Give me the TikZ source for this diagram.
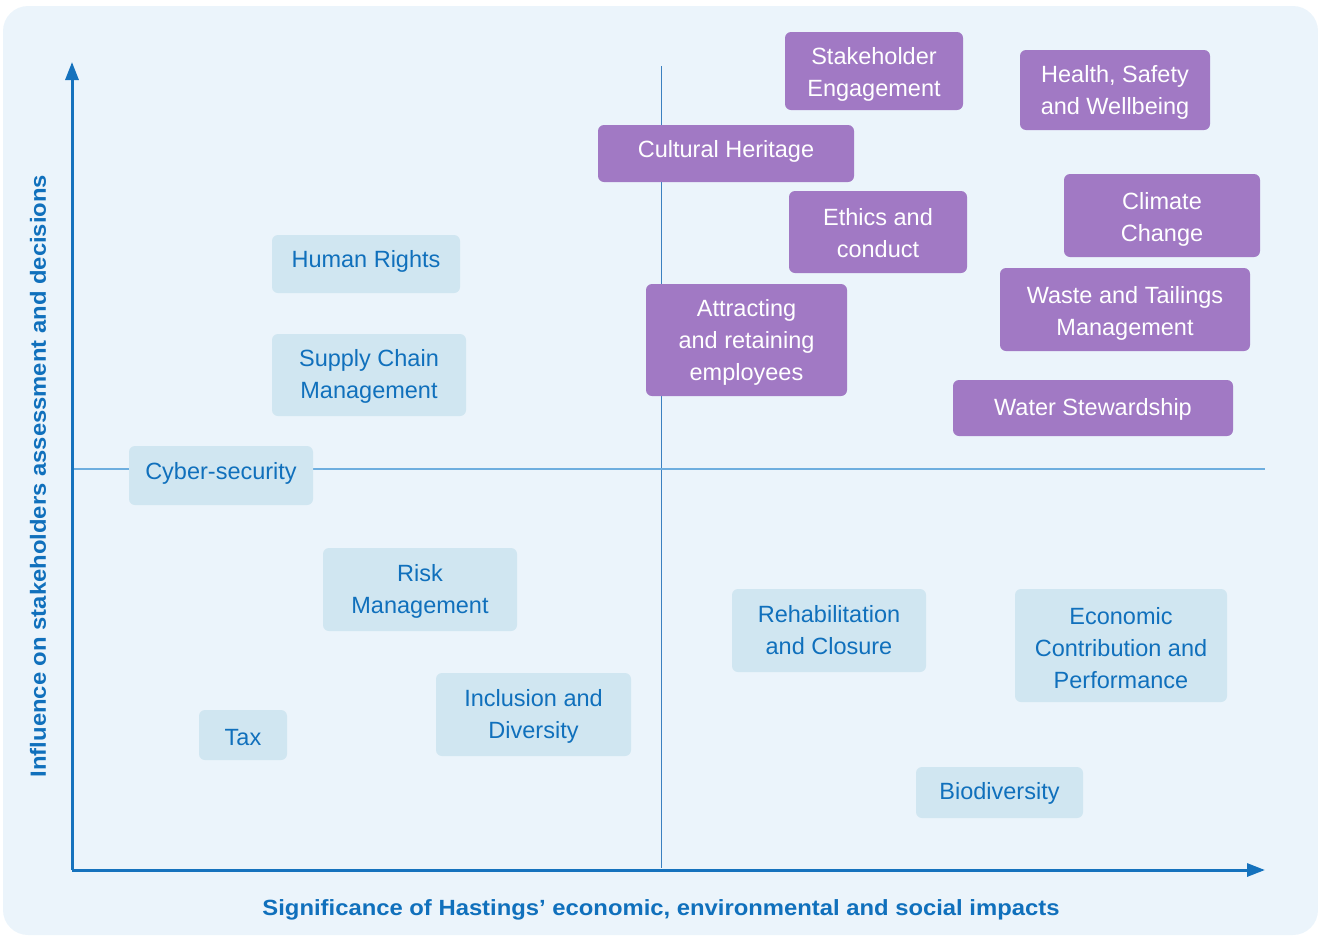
\documentclass[tikz,border=0pt]{standalone}
\usepackage{fontspec}
\setmainfont{Liberation Sans}
\usetikzlibrary{arrows.meta}
\definecolor{bgblue}{HTML}{EBF4FB}
\definecolor{purp}{HTML}{A179C4}
\definecolor{lbox}{HTML}{D0E6F1}
\definecolor{tblue}{HTML}{1070BC}
\definecolor{axblue}{HTML}{1572BD}
\definecolor{vline}{HTML}{3A80C0}
\definecolor{hline}{HTML}{6EAEDF}
\newcommand\dnl[1]{\rule{0pt}{#1pt}}
\newcommand\upl[2]{\raisebox{#1pt}[\height][\depth]{#2}}
\tikzset{
  box/.style={rectangle, rounded corners=6pt, inner sep=0pt, align=center,
    font=\fontsize{23.5}{32}\selectfont},
  pbox/.style={box, fill=purp, text=white},
  lbbox/.style={box, fill=lbox, text=tblue},
  axis/.style={draw=axblue, line width=3pt, -{Triangle[length=18pt,width=13pt]}},
  vthin/.style={draw=vline, line width=1pt},
  hthin/.style={draw=hline, line width=1.5pt},
  axlabel/.style={text=tblue, font=\bfseries\fontsize{22}{24}\selectfont}
}
\begin{document}
\begin{tikzpicture}[x=1pt,y=-1pt]
\useasboundingbox (0,0) rectangle (1318,935);
\fill[bgblue, rounded corners=25pt] (3,6) rectangle (1318,935);
% coordinates
\coordinate (o) at (72,870);
\coordinate (ytop) at (72,62);
\coordinate (xend) at (1265,870);
\coordinate (vt) at (661,66);
\coordinate (vb) at (661,868);
\coordinate (hl) at (72,469);
\coordinate (hr) at (1265,469);
\draw[vthin] (vt) -- (vb);
\draw[hthin] (hl) -- (hr);
\draw[axis] (o) -- (ytop);
\draw[axis] (o) -- (xend);
% purple boxes
\node[pbox, minimum width=178pt, minimum height=78pt] (se) at (874,71) {\dnl{23.1}Stakeholder\\Engagement};
\node[pbox, minimum width=190pt, minimum height=80pt] (hs) at (1115,90) {\dnl{21.1}Health, Safety\\and Wellbeing};
\node[pbox, minimum width=256pt, minimum height=57pt] (ch) at (726,153.5) {\upl{2}{Cultural Heritage}};
\node[pbox, minimum width=178pt, minimum height=82pt] (ec) at (878,232) {\dnl{19.1}Ethics and\\conduct};
\node[pbox, minimum width=196pt, minimum height=83pt] (cc) at (1162,215.5) {\dnl{25.1}Climate\\Change};
\node[pbox, minimum width=250pt, minimum height=83pt] (wt) at (1125,309.5) {\dnl{25.1}Waste and Tailings\\Management};
\node[pbox, minimum width=201pt, minimum height=112pt] (ar) at (746.5,340) {\dnl{21.1}Attracting\\and retaining\\employees};
\node[pbox, minimum width=280pt, minimum height=56pt] (ws) at (1093,408) {\upl{-1}{Water Stewardship}};
% light boxes
\node[lbbox, minimum width=188pt, minimum height=58pt] (hr) at (366,264) {\upl{3}{Human Rights}};
\node[lbbox, minimum width=194pt, minimum height=82pt] (sc) at (369,375) {\dnl{19.1}Supply Chain\\Management};
\node[lbbox, minimum width=184pt, minimum height=59pt] (cs) at (221,475.5) {\upl{2}{Cyber-security}};
\node[lbbox, minimum width=194pt, minimum height=83pt] (rm) at (420,589.5) {\dnl{21.1}Risk\\Management};
\node[lbbox, minimum width=194pt, minimum height=83pt] (rc) at (829,630.5) {Rehabilitation\\and Closure};
\node[lbbox, minimum width=212pt, minimum height=113pt] (eco) at (1121,645.5) {\dnl{23.1}Economic\\Contribution and\\Performance};
\node[lbbox, minimum width=195pt, minimum height=83pt] (id) at (533.5,714.5) {\dnl{21.1}Inclusion and\\Diversity};
\node[lbbox, minimum width=88pt, minimum height=50pt] (tax) at (243,735) {\upl{-3}{Tax}};
\node[lbbox, minimum width=167pt, minimum height=51pt] (bio) at (999.5,792.5) {\upl{-1}{Biodiversity}};
% axis labels
\node[axlabel] (xl) at (661,910) {\scalebox{1.083}[1]{Significance of Hastings’ economic, environmental and social impacts}};
\node[axlabel, rotate=90] (yl) at (38,476) {\scalebox{1.083}[1]{Influence on stakeholders assessment and decisions}};
\end{tikzpicture}
\end{document}
